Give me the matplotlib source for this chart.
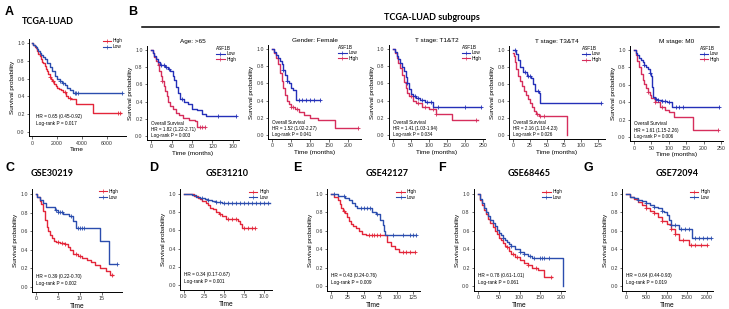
import numpy as np
import matplotlib
matplotlib.use('Agg')
import matplotlib.pyplot as plt
from matplotlib.lines import Line2D

plt.rcParams['font.family'] = ['Liberation Sans', 'DejaVu Sans']

# colours
red_a = '#E3263A'
blue_a = '#2B4DAE'
red_b = '#D62E5C'
blue_b = '#2430B8'

# ---- A: TCGA-LUAD (days)
A_high_t = [0, 100, 200, 300, 400, 500, 600, 700, 800, 900, 1000, 1100, 1200, 1300, 1400, 1500, 1600, 1750, 1900, 2000, 2150, 2300, 2500, 2700, 2900, 3100, 3500, 4900, 7100]
A_high_s = [1.0, 0.98, 0.96, 0.94, 0.91, 0.88, 0.85, 0.82, 0.79, 0.77, 0.74, 0.71, 0.68, 0.65, 0.62, 0.60, 0.57, 0.54, 0.52, 0.50, 0.48, 0.47, 0.45, 0.41, 0.38, 0.37, 0.31, 0.21, 0.21]
A_high_c = [1400, 1700, 2600, 3000, 6900, 7050]
A_low_t = [0, 100, 200, 300, 400, 500, 600, 700, 800, 900, 1000, 1200, 1400, 1600, 1800, 2000, 2200, 2400, 2600, 2800, 3000, 3300, 7200]
A_low_s = [1.0, 0.98, 0.97, 0.95, 0.93, 0.91, 0.89, 0.87, 0.86, 0.84, 0.82, 0.78, 0.73, 0.68, 0.63, 0.59, 0.57, 0.55, 0.53, 0.50, 0.47, 0.44, 0.44]
A_low_c = [2200, 2500, 3400, 3550, 3700, 7200]

# ---- B: TCGA-LUAD subgroups (months)
B1_low_t = [0, 3, 6, 10, 14, 18, 22, 28, 33, 38, 42, 45, 48, 52, 56, 65, 72, 80, 90, 100, 108, 165]
B1_low_s = [1.0, 0.97, 0.93, 0.89, 0.86, 0.83, 0.82, 0.80, 0.78, 0.75, 0.70, 0.65, 0.57, 0.50, 0.43, 0.40, 0.37, 0.31, 0.30, 0.26, 0.23, 0.23]
B1_low_c = [20, 25, 30, 35, 60, 130, 165]
B1_high_t = [0, 3, 6, 10, 13, 16, 19, 22, 25, 28, 31, 34, 38, 42, 48, 55, 62, 75, 85, 90, 105]
B1_high_s = [1.0, 0.96, 0.92, 0.87, 0.82, 0.76, 0.70, 0.64, 0.58, 0.52, 0.46, 0.40, 0.35, 0.31, 0.27, 0.25, 0.21, 0.19, 0.17, 0.10, 0.10]
B1_high_c = [15, 22, 95, 100, 105]

B2_low_t = [0, 5, 10, 15, 20, 25, 30, 35, 40, 45, 50, 55, 62, 125]
B2_low_s = [1.0, 0.96, 0.93, 0.90, 0.86, 0.82, 0.76, 0.70, 0.63, 0.60, 0.55, 0.52, 0.41, 0.41]
B2_low_c = [30, 40, 70, 80, 90, 100, 110, 125]
B2_high_t = [0, 5, 10, 15, 20, 25, 30, 35, 40, 45, 50, 60, 70, 85, 100, 120, 165, 225]
B2_high_s = [1.0, 0.95, 0.90, 0.83, 0.72, 0.63, 0.55, 0.47, 0.40, 0.36, 0.32, 0.30, 0.27, 0.23, 0.20, 0.17, 0.08, 0.08]
B2_high_c = [50, 55, 65, 225]

B3_low_t = [0, 5, 10, 15, 20, 25, 30, 35, 40, 45, 50, 55, 65, 75, 90, 110, 245]
B3_low_s = [1.0, 0.96, 0.92, 0.88, 0.84, 0.79, 0.74, 0.68, 0.60, 0.54, 0.48, 0.45, 0.43, 0.41, 0.38, 0.33, 0.33]
B3_low_c = [40, 60, 70, 80, 95, 105, 125, 200, 245]
B3_high_t = [0, 5, 10, 15, 20, 25, 30, 35, 40, 45, 55, 65, 80, 100, 120, 165, 235]
B3_high_s = [1.0, 0.95, 0.89, 0.84, 0.78, 0.70, 0.62, 0.55, 0.49, 0.45, 0.40, 0.37, 0.33, 0.30, 0.25, 0.17, 0.17]
B3_high_c = [50, 70, 90, 110, 120, 230]

B4_low_t = [0, 5, 7, 10, 14, 20, 27, 30, 33, 38, 40, 130]
B4_low_s = [1.0, 0.95, 0.88, 0.80, 0.74, 0.70, 0.67, 0.60, 0.52, 0.50, 0.38, 0.38]
B4_low_c = [3, 17, 22, 25, 37, 130]
B4_high_t = [0, 1, 3, 5, 7, 10, 13, 16, 19, 22, 25, 28, 31, 34, 38, 79]
B4_high_s = [0.97, 0.93, 0.86, 0.78, 0.70, 0.64, 0.58, 0.52, 0.47, 0.42, 0.38, 0.33, 0.28, 0.25, 0.22, 0.0]
B4_high_c = [36, 40, 45]

B5_low_t = [0, 5, 10, 15, 20, 25, 30, 35, 40, 45, 50, 53, 56, 60, 70, 80, 95, 110, 245]
B5_low_s = [1.0, 0.97, 0.94, 0.91, 0.88, 0.86, 0.83, 0.81, 0.78, 0.74, 0.70, 0.57, 0.46, 0.44, 0.42, 0.41, 0.40, 0.35, 0.35]
B5_low_c = [30, 45, 62, 70, 80, 90, 100, 120, 130, 140, 245]
B5_high_t = [0, 5, 10, 15, 20, 25, 30, 35, 40, 45, 50, 60, 75, 90, 100, 115, 170, 240]
B5_high_s = [1.0, 0.94, 0.87, 0.80, 0.72, 0.66, 0.61, 0.56, 0.52, 0.48, 0.45, 0.40, 0.35, 0.31, 0.29, 0.23, 0.08, 0.08]
B5_high_c = [40, 60, 80, 240]

B_titles = ['Age: >65', 'Gender: Female', 'T stage: T1&T2', 'T stage: T3&T4', 'M stage: M0']
B_hr = ['1.82 (1.22-2.71)', '1.52 (1.02-2.27)', '1.41 (1.03-1.94)', '2.16 (1.10-4.23)', '1.61 (1.15-2.26)']
B_p = ['0.003', '0.041', '0.034', '0.026', '0.006']

# ---- C-G: GEO cohorts
C_low_t = [0, 0.3, 0.8, 1.5, 2.2, 4.3, 5.0, 6.2, 7.5, 8.5, 9.0, 14.5, 16.5, 18.5]
C_low_s = [1.0, 0.97, 0.94, 0.90, 0.86, 0.83, 0.81, 0.79, 0.76, 0.71, 0.63, 0.50, 0.25, 0.25]
C_low_c = [4.5, 5.0, 5.5, 6.0, 8.0, 9.5, 10.0, 10.5, 11.0, 18.5]
C_high_t = [0, 0.3, 0.8, 1.2, 1.6, 2.0, 2.4, 2.8, 3.2, 3.6, 4.0, 4.5, 5.5, 6.5, 7.2, 7.8, 8.5, 9.5, 10.5, 11.5, 12.5, 13.5, 14.5, 16.0, 16.8, 17.6]
C_high_s = [1.0, 0.97, 0.93, 0.89, 0.82, 0.72, 0.65, 0.60, 0.56, 0.53, 0.50, 0.48, 0.47, 0.46, 0.43, 0.40, 0.36, 0.33, 0.31, 0.29, 0.27, 0.24, 0.20, 0.17, 0.13, 0.13]
C_high_c = [5.0, 5.8, 6.5, 9.0, 10.0, 17.2]

D_low_t = [0, 1.0, 1.5, 2.0, 2.6, 3.0, 3.5, 4.0, 4.8, 10.7]
D_low_s = [1.0, 0.99, 0.97, 0.96, 0.95, 0.93, 0.92, 0.91, 0.90, 0.90]
D_low_c = [2.3, 3.0, 4.0, 4.5, 5.0, 5.5, 6.0, 6.5, 7.0, 7.5, 8.0, 8.5, 9.0, 9.5, 10.0, 10.5]
D_high_t = [0, 1.3, 1.7, 2.0, 2.3, 2.7, 3.0, 3.3, 3.6, 4.0, 4.4, 4.8, 5.2, 6.2, 6.8, 7.0, 7.3, 8.9]
D_high_s = [1.0, 0.98, 0.96, 0.94, 0.92, 0.90, 0.88, 0.85, 0.83, 0.80, 0.78, 0.76, 0.73, 0.72, 0.70, 0.67, 0.63, 0.63]
D_high_c = [4.5, 5.5, 6.0, 6.5, 7.5, 8.0, 8.5, 8.9]

E_low_t = [0, 10, 22, 28, 32, 36, 40, 62, 68, 75, 79, 81, 83, 130]
E_low_s = [1.0, 0.98, 0.96, 0.93, 0.90, 0.87, 0.85, 0.80, 0.78, 0.72, 0.66, 0.60, 0.55, 0.55]
E_low_c = [5, 20, 45, 50, 55, 60, 70, 95, 110, 120, 125, 130]
E_high_t = [0, 5, 10, 13, 16, 19, 22, 25, 28, 31, 34, 38, 43, 48, 53, 86, 92, 98, 104, 128]
E_high_s = [1.0, 0.97, 0.93, 0.89, 0.85, 0.82, 0.79, 0.75, 0.71, 0.67, 0.65, 0.63, 0.60, 0.57, 0.55, 0.48, 0.43, 0.40, 0.37, 0.37]
E_high_c = [20, 58, 62, 66, 70, 75, 110, 115, 120, 128]

F_low_t = [0, 5, 10, 15, 20, 25, 30, 35, 40, 45, 50, 55, 60, 65, 70, 75, 80, 90, 100, 110, 120, 130, 204]
F_low_s = [1.0, 0.95, 0.90, 0.85, 0.80, 0.76, 0.72, 0.68, 0.65, 0.61, 0.58, 0.55, 0.52, 0.50, 0.48, 0.46, 0.44, 0.40, 0.37, 0.35, 0.33, 0.30, 0.0]
F_low_c = [60, 80, 100, 110, 125, 135, 150, 155, 160, 170]
F_high_t = [0, 5, 10, 15, 20, 25, 30, 35, 40, 45, 50, 55, 60, 65, 70, 75, 80, 90, 100, 110, 120, 130, 145, 160, 178]
F_high_s = [1.0, 0.94, 0.88, 0.83, 0.78, 0.73, 0.68, 0.64, 0.60, 0.56, 0.52, 0.50, 0.47, 0.44, 0.42, 0.38, 0.35, 0.31, 0.28, 0.25, 0.23, 0.20, 0.17, 0.10, 0.10]
F_high_c = [70, 85, 95, 120, 140, 175]

G_low_t = [0, 100, 200, 300, 400, 500, 600, 700, 800, 900, 950, 1000, 1050, 1100, 1250, 1300, 1620, 2100]
G_low_s = [1.0, 0.97, 0.96, 0.94, 0.92, 0.90, 0.88, 0.86, 0.85, 0.82, 0.80, 0.77, 0.72, 0.66, 0.66, 0.62, 0.52, 0.52]
G_low_c = [300, 500, 700, 900, 1100, 1200, 1350, 1450, 1550, 1700, 1800, 1900, 2000, 2100]
G_high_t = [0, 100, 200, 300, 400, 500, 600, 700, 800, 900, 1000, 1100, 1200, 1300, 1550, 2000]
G_high_s = [1.0, 0.97, 0.95, 0.91, 0.88, 0.85, 0.82, 0.79, 0.75, 0.71, 0.67, 0.62, 0.57, 0.50, 0.45, 0.45]
G_high_c = [500, 700, 900, 1100, 1200, 1400, 1600, 1700, 1850, 2000]

bottom_titles = ['GSE30219', 'GSE31210', 'GSE42127', 'GSE68465', 'GSE72094']
bottom_hr = ['0.39 (0.22-0.70)', '0.34 (0.17-0.67)', '0.43 (0.24-0.76)', '0.78 (0.61-1.01)', '0.64 (0.44-0.93)']
bottom_p = ['0.002', '0.001', '0.009', '0.061', '0.019']

W, H = 729, 309
fig = plt.figure(figsize=(W / 100, H / 100), dpi=100)


def make_ax(x0px, xtpx, xt, y0px, y1px, xlim, xticks):
    sx = (xtpx - x0px) / xt
    sy = y0px - y1px
    left = x0px + xlim[0] * sx
    right = x0px + xlim[1] * sx
    top = y1px - 0.05 * sy
    bot = y0px + 0.05 * sy
    ax = fig.add_axes([left / W, 1 - bot / H, (right - left) / W, (bot - top) / H])
    ax.set_xlim(xlim)
    ax.set_ylim(-0.05, 1.05)
    ax.set_xticks(xticks)
    ax.set_yticks([0, 0.2, 0.4, 0.6, 0.8, 1.0])
    ax.set_yticklabels(['0.0', '0.2', '0.4', '0.6', '0.8', '1.0'])
    for sp in ['top', 'right']:
        ax.spines[sp].set_visible(False)
    for sp in ['left', 'bottom']:
        ax.spines[sp].set_linewidth(0.7)
    ax.tick_params(labelsize=3.8, length=1.8, width=0.5, pad=1.2, colors='#333333')
    ax.set_ylabel('Survival probability', fontsize=4.6, labelpad=1.5)
    ax.patch.set_alpha(0)
    return ax


def km(ax, t, s, cens, color):
    t = np.asarray(t, dtype=float)
    s = np.asarray(s, dtype=float)
    ax.step(t, s, where='post', color=color, lw=1.0)
    idx = np.searchsorted(t, cens, side='right') - 1
    ax.plot(cens, s[idx], '+', color=color, ms=2.6, mew=0.6)


def hl_legend(ax, title=None, order=('High', 'Low'), cols=(red_a, blue_a)):
    hs = [Line2D([], [], color=c, lw=0.8, marker='+', ms=2.2, mew=0.5) for c in cols]
    leg = ax.legend(hs, order, loc='upper right', bbox_to_anchor=(1.0, 1.03),
                    fontsize=3.4, frameon=False, handlelength=1.8, handletextpad=0.4,
                    labelspacing=0.15, borderpad=0.1, title=title, title_fontsize=3.4,
                    alignment='left')
    return leg


# ---- panel A
ax = make_ax(32, 107, 6000, 132, 43, (-250, 7500), [0, 2000, 4000, 6000])
km(ax, A_high_t, A_high_s, A_high_c, red_a)
km(ax, A_low_t, A_low_s, A_low_c, blue_a)
hl_legend(ax)
ax.text(350, 0.17, 'HR = 0.65 (0.45-0.92)', fontsize=3.4, va='center')
ax.text(350, 0.10, 'Log-rank P = 0.017', fontsize=3.4, va='center')
ax.set_xlabel('Time', fontsize=4.6, labelpad=1)
fig.text(48 / W, 1 - 21 / H, 'TCGA-LUAD', fontsize=6.5, fontweight='bold', family='Lato', ha='center', va='center')

# ---- panel B
B_low = [(B1_low_t, B1_low_s, B1_low_c), (B2_low_t, B2_low_s, B2_low_c), (B3_low_t, B3_low_s, B3_low_c),
         (B4_low_t, B4_low_s, B4_low_c), (B5_low_t, B5_low_s, B5_low_c)]
B_high = [(B1_high_t, B1_high_s, B1_high_c), (B2_high_t, B2_high_s, B2_high_c), (B3_high_t, B3_high_s, B3_high_c),
          (B4_high_t, B4_high_s, B4_high_c), (B5_high_t, B5_high_s, B5_high_c)]
B_pos = [(151, 233, 160, 136, 50, (-8, 172), [0, 40, 80, 120, 160]),
         (272, 348, 200, 135, 49, (-10, 235), [0, 50, 100, 150, 200]),
         (393, 483, 250, 135, 49, (-12, 255), [0, 50, 100, 150, 200, 250]),
         (513, 598, 125, 135, 50, (-6, 135), [0, 25, 50, 75, 100, 125]),
         (634, 721, 250, 137, 50, (-12, 255), [0, 50, 100, 150, 200, 250])]
for i in range(5):
    ax = make_ax(*B_pos[i])
    km(ax, *B_high[i], red_b)
    km(ax, *B_low[i], blue_b)
    hl_legend(ax, title='ASF1B', order=('Low', 'High'), cols=(blue_b, red_b))
    ax.set_title(B_titles[i], fontsize=4.6, pad=2)
    ax.text(0, 0.15, 'Overall Survival', fontsize=3.3, va='center')
    ax.text(0, 0.08, 'HR = ' + B_hr[i], fontsize=3.3, va='center')
    ax.text(0, 0.01, 'Log-rank P = ' + B_p[i], fontsize=3.3, va='center')
    ax.set_xlabel('Time (months)', fontsize=4.6, labelpad=1)

fig.text(432 / W, 1 - 17 / H, 'TCGA-LUAD subgroups', fontsize=6.5, fontweight='bold', family='Lato', ha='center', va='center')
fig.add_artist(Line2D([142 / W, 719 / W], [1 - 27 / H, 1 - 27 / H], color='black', lw=1.1))

# ---- panels C-G
bottom_low = [(C_low_t, C_low_s, C_low_c), (D_low_t, D_low_s, D_low_c), (E_low_t, E_low_s, E_low_c),
              (F_low_t, F_low_s, F_low_c), (G_low_t, G_low_s, G_low_c)]
bottom_high = [(C_high_t, C_high_s, C_high_c), (D_high_t, D_high_s, D_high_c), (E_high_t, E_high_s, E_high_c),
               (F_high_t, F_high_s, F_high_c), (G_high_t, G_high_s, G_high_c)]
bottom_pos = [(36, 102, 15, 287, 194, (-0.9, 19.5), [0, 5, 10, 15]),
              (184, 264, 10, 285, 194, (-0.5, 11), [0, 2.5, 5, 7.5, 10]),
              (331, 413, 125, 286, 194, (-6, 135), [0, 25, 50, 75, 100, 125]),
              (478, 561, 200, 286, 194, (-10, 210), [0, 50, 100, 150, 200]),
              (626, 707, 2000, 286, 194, (-100, 2150), [0, 500, 1000, 1500, 2000])]
title_x = [52, 227, 387, 529, 677]
for i in range(5):
    ax = make_ax(*bottom_pos[i])
    km(ax, *bottom_high[i], red_a)
    km(ax, *bottom_low[i], blue_a)
    hl_legend(ax)
    ax.text(0, 0.11, 'HR = ' + bottom_hr[i], fontsize=3.4, va='center')
    ax.text(0, 0.04, 'Log-rank P = ' + bottom_p[i], fontsize=3.4, va='center')
    ax.set_xlabel('Time', fontsize=4.8, labelpad=1.5)
    fig.text(title_x[i] / W, 1 - 174 / H, bottom_titles[i], fontsize=6.5, fontweight='bold', family='Lato',
             ha='center', va='center')

# panel letters
for lab, x, y in [('A', 5, 12), ('B', 128, 12), ('C', 5, 168), ('D', 149, 168),
                  ('E', 293, 168), ('F', 438, 168), ('G', 583, 168)]:
    fig.text(x / W, 1 - y / H, lab, fontsize=9, fontweight='bold', ha='left', va='center')

fig.savefig('out.png', dpi=100)
